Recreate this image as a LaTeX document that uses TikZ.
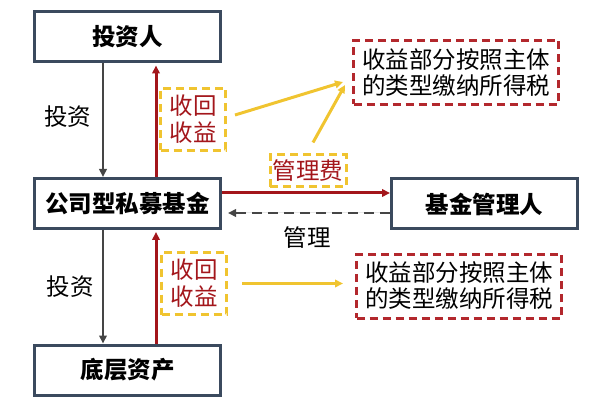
\documentclass[tikz,border=0pt]{standalone}
\usepackage{fontspec}
\newfontfamily\cjk{Noto Sans CJK SC}
\usetikzlibrary{arrows.meta,positioning}
\definecolor{boxblue}{HTML}{3B4A5E}
\definecolor{darkred}{HTML}{A3161B}
\definecolor{taxred}{HTML}{B3282D}
\definecolor{gold}{HTML}{F0C430}
\definecolor{arrowgray}{HTML}{454545}

\begin{document}
\begin{tikzpicture}[x=1pt,y=-1pt,
    every node/.style={font=\cjk\fontsize{23.5}{26}\selectfont, inner sep=0pt, align=center},
    entity/.style={draw=boxblue, line width=3pt, fill=white, minimum width=186pt, minimum height=50pt, font=\cjk\bfseries\fontsize{23.5}{26}\selectfont},
    taxbox/.style={draw=taxred, line width=3pt, dash pattern=on 8pt off 5pt, minimum width=205pt, minimum height=64pt},
    flowbox/.style={draw=gold, line width=3pt, dash pattern=on 8pt off 5pt, text=darkred, font=\cjk\fontsize{23.5}{27}\selectfont},
    arr/.style={-{Triangle[length=8pt,width=7.5pt]}},
    grayflow/.style={arr, draw=arrowgray, fill=arrowgray, line width=2.8pt},
    redflow/.style={arr, draw=darkred, fill=darkred, line width=3pt},
    goldflow/.style={arr, draw=gold, fill=gold, line width=3pt}]
    \useasboundingbox (0,0) rectangle (603,409);
    % boxes
    \node [entity] (investor) at (127.5,37) {投资人};
    \node [entity] (fund) at (127.5,203.5) {公司型私募基金};
    \node [entity] (asset) at (127.5,370) {底层资产};
    \node [entity] (manager) at (484.5,204) {基金管理人};
    \node [taxbox] (taxtop) at (456,72.5) {收益部分按照主体\\的类型缴纳所得税};
    \node [taxbox] (taxlow) at (459,286) {收益部分按照主体\\的类型缴纳所得税};
    \node [flowbox, minimum width=65pt, minimum height=62pt] (rettop) at (193,119.5) {收回\\收益};
    \node [flowbox, minimum width=65pt, minimum height=62pt] (retlow) at (194,283.5) {收回\\收益};
    \node [flowbox, minimum width=76pt, minimum height=32pt] (fee) at (308,171) {管理费};
    % labels
    \node (invtop) at (68,117) {投资};
    \node (invlow) at (70,287) {投资};
    \node (manage) at (307,238) {管理};
    % investing and returns
    \draw [grayflow] ([xshift=-24.5pt]investor.south) -- ([xshift=-24.5pt]fund.north);
    \draw [grayflow] ([xshift=-24.5pt]fund.south) -- ([xshift=-24.5pt]asset.north);
    \draw [redflow] ([xshift=28.5pt]fund.north) -- ([xshift=28.5pt,yshift=-2pt]investor.south);
    \draw [redflow] ([xshift=28.5pt]asset.north) -- ([xshift=28.5pt,yshift=-2pt]fund.south);
    % fee and management
    \draw [redflow] ([yshift=10.5pt]fund.east) -- ([yshift=10.5pt]fund.east -| manager.west);
    \draw [grayflow, dash pattern=on 10pt off 6pt] ([yshift=-9pt]manager.west) -- ([yshift=-9pt,xshift=6pt]manager.west -| fund.east);
    % tax
    \draw [goldflow] ([xshift=8pt,yshift=4.5pt]rettop.east) -- ([xshift=-9pt,yshift=-9.5pt]taxtop.west);
    \draw [goldflow] ([xshift=5pt,yshift=11pt]fee.north) -- ([xshift=-7pt,yshift=-12.5pt]taxtop.west);
    \draw [goldflow] ([xshift=14pt]retlow.east) -- ([xshift=-12pt]retlow.east -| taxlow.west);
\end{tikzpicture}
\end{document}
